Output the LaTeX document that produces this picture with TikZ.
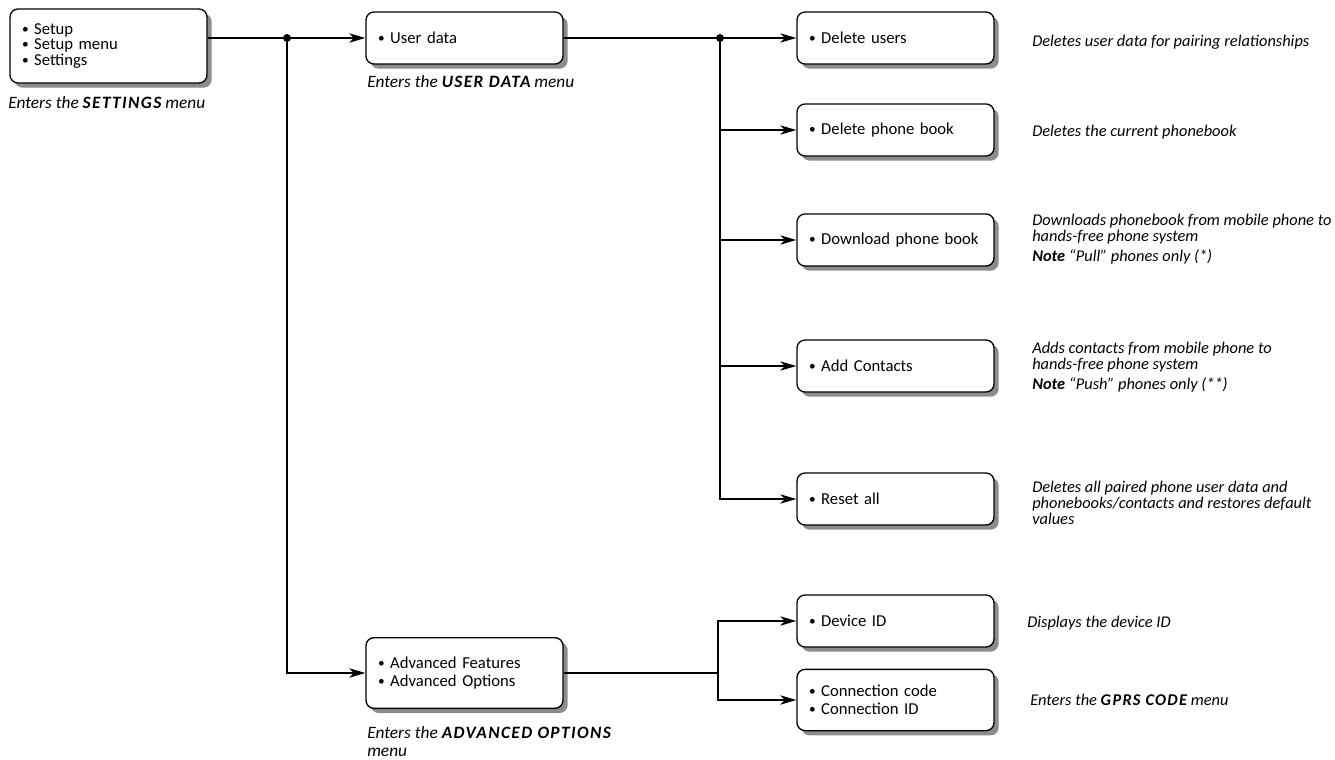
\documentclass[tikz,border=0pt]{standalone}
\usepackage{fontspec}
\setmainfont{Carlito}
\usetikzlibrary{arrows.meta,shadows}
\newcommand\bul{\raisebox{0.1ex}{\scalebox{0.8}{•}}\ }
\newcommand\capb[1]{{\bfseries\addfontfeature{LetterSpace=8}#1}}
\begin{document}
\begin{tikzpicture}[x=0.75pt,y=-0.75pt,
  box/.style={draw=black, line width=1pt, rounded corners=6pt, fill=white,
    drop shadow={shadow xshift=3.5pt, shadow yshift=-3.5pt, fill=black!45, opacity=1},
    minimum height=39pt, text width=129.75pt, inner xsep=9pt, align=left,
    font=\fontsize{12.5}{13.5}\selectfont},
  conn/.style={line width=0.9pt},
  arr/.style={conn, -{Stealth[length=12pt,width=7pt,inset=3.5pt]}},
  desc/.style={anchor=west, inner sep=0pt, align=left,
    font=\fontsize{12.3}{12}\selectfont\itshape},
  capt/.style={desc, font=\fontsize{13}{13.5}\selectfont\itshape},
  dotmark/.style={circle, fill=black, inner sep=0pt, minimum size=6pt}
]
\useasboundingbox (0,0) rectangle (1335,760);

% boxes
\node[box, minimum height=55.5pt, font=\fontsize{12.5}{10}\selectfont] (setup) at (108.5,46)
  {\bul Setup\\\bul Setup menu\\\bul Settings\par\vspace*{6pt}};
\node[box] (user) at (464.5,38) {\bul User data};
\node[box, minimum height=53pt] (adv) at (464.5,673) {\bul Advanced Features\\\bul Advanced Options};

\node[box] (du)  at (895.5,38)  {\bul Delete users};
\node[box] (dpb) at (895.5,130) {\bul Delete phone book};
\node[box] (dlp) at (895.5,240) {\bul Download phone book};
\node[box] (add) at (895.5,366) {\bul Add Contacts};
\node[box] (rst) at (895.5,499) {\bul Reset all};
\node[box] (dev) at (895.5,621) {\bul Device ID};
\node[box, minimum height=46pt] (con) at (895.5,700) {\bul Connection code\\\bul Connection ID};

% captions
\node[capt] (capset) at (8,103) {Enters the \capb{SETTINGS} menu};
\node[capt] (capuser) at (367,82) {Enters the \capb{USER DATA} menu};
\node[capt, anchor=north west] (capadv) at (367,726) {Enters the \capb{ADVANCED OPTIONS}\\menu};

% descriptions
\node[desc] (t1) at (1032,42) {Deletes user data for pairing relationships};
\node[desc] (t2) at (1032,132) {Deletes the current phonebook};
\node[desc] (t3) at (1032,239) {Downloads phonebook from mobile phone to\\hands-free phone system\\[3pt]\textbf{Note} “Pull” phones only (*)};
\node[desc] (t4) at (1032,367) {Adds contacts from mobile phone to\\hands-free phone system\\[3pt]\textbf{Note} “Push” phones only (**)};
\node[desc] (t5) at (1032,503) {Deletes all paired phone user data and\\phonebooks/contacts and restores default\\values};
\node[desc] (t6) at (1027,623) {Displays the device ID};
\node[desc] (t7) at (1030,700) {Enters the \capb{GPRS CODE} menu};

% connectors
\node[dotmark] (d1) at (287,38) {};
\node[dotmark] (d2) at (720,38) {};
\coordinate (j) at (718,673);

\draw[conn] (setup.east |- d1) -- (d1.center);
\draw[arr] (d1.center) -- (user.west);
\draw[arr] (d1.center) |- (adv.west);
\draw[conn] (user.east) -- (d2.center);
\draw[arr] (d2.center) -- (du.west);
\draw[arr] (d2.center) |- (dpb.west);
\draw[arr] (d2.center) |- (dlp.west);
\draw[arr] (d2.center) |- (add.west);
\draw[arr] (d2.center) |- (rst.west);
\draw[conn] (adv.east) -- (j);
\draw[arr] (j) |- (dev.west);
\draw[arr] (j) |- (con.west);
\end{tikzpicture}
\end{document}
